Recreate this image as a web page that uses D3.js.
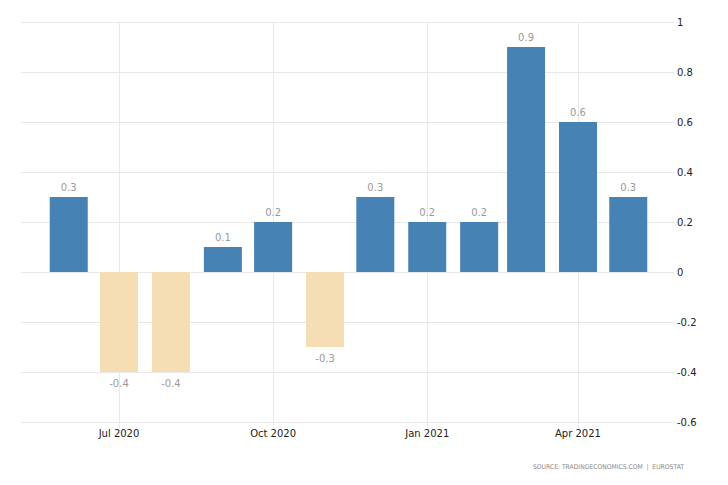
<!DOCTYPE html>
<html><head><meta charset="utf-8">
<script src="https://cdn.jsdelivr.net/npm/d3@7"></script>
<style>body{margin:0;background:#fff}svg{display:block}</style>
</head><body>
<svg id="c" width="728" height="485"></svg>
<script>
const months = ["2020-06","2020-07","2020-08","2020-09","2020-10","2020-11","2020-12","2021-01","2021-02","2021-03","2021-04","2021-05"];
const values = [0.3,-0.4,-0.4,0.1,0.2,-0.3,0.3,0.2,0.2,0.9,0.6,0.3];
const yTicks = [1,0.8,0.6,0.4,0.2,0,-0.2,-0.4,-0.6];
const xTicks = ["2020-07","2020-10","2021-01","2021-04"];
const source = "SOURCE: TRADINGECONOMICS.COM  |  EUROSTAT";

(function(){
const parse = d3.timeParse("%Y-%m");
const svg = d3.select("#c");
const L = 21, R = 674, T = 22, B = 422;
const x = d3.scaleTime().domain([parse("2020-07"), parse("2021-04")]).range([119, 578]);
const y = d3.scaleLinear().domain([-0.6, 1]).range([B, T]);
const font = "'DejaVu Sans', sans-serif";

svg.append("g").selectAll("line").data(yTicks).join("line")
  .attr("x1", L).attr("x2", R)
  .attr("y1", d => Math.round(y(d)) + 0.5).attr("y2", d => Math.round(y(d)) + 0.5)
  .attr("stroke", "#e8e8e8").attr("stroke-width", 1);
svg.append("g").selectAll("line").data(xTicks).join("line")
  .attr("x1", d => Math.round(x(parse(d))) + 0.5).attr("x2", d => Math.round(x(parse(d))) + 0.5)
  .attr("y1", T).attr("y2", B + 6)
  .attr("stroke", "#e8e8e8").attr("stroke-width", 1);

const bw = 38;
const data = months.map((m, i) => ({d: parse(m), v: values[i]}));
svg.append("g").selectAll("rect").data(data).join("rect")
  .attr("x", d => x(d.d) - bw / 2)
  .attr("width", bw)
  .attr("y", d => y(Math.max(0, d.v)))
  .attr("height", d => Math.abs(y(d.v) - y(0)))
  .attr("fill", d => d.v >= 0 ? "#4682b4" : "#f5deb3");

svg.append("g").selectAll("text").data(data).join("text")
  .attr("x", d => x(d.d))
  .attr("y", d => d.v >= 0 ? y(d.v) - 6 : y(d.v) + 15)
  .attr("text-anchor", "middle")
  .attr("font-family", font).attr("font-size", 10).attr("fill", "#9a9a9a")
  .text(d => d3.format(".1f")(d.v).replace("−", "-"));

svg.append("g").selectAll("text").data(yTicks).join("text")
  .attr("x", 677).attr("y", d => y(d) + 4)
  .attr("font-family", font).attr("font-size", 10).attr("fill", "#222")
  .text(d => d === 0 || d === 1 ? String(d) : d3.format(".1f")(d).replace("−", "-"));

const fmt = d3.timeFormat("%b %Y");
svg.append("g").selectAll("text").data(xTicks).join("text")
  .attr("x", d => x(parse(d))).attr("y", B + 15)
  .attr("text-anchor", "middle")
  .attr("font-family", font).attr("font-size", 10).attr("fill", "#222")
  .text(d => fmt(parse(d)));

svg.append("text").attr("x", 684).attr("y", 469).attr("text-anchor", "end")
  .attr("font-family", font).attr("font-size", 6.5).attr("fill", "#888")
  .attr("xml:space", "preserve")
  .attr("textLength", 151).attr("lengthAdjust", "spacingAndGlyphs")
  .text(source);
})();
</script>
</body></html>
